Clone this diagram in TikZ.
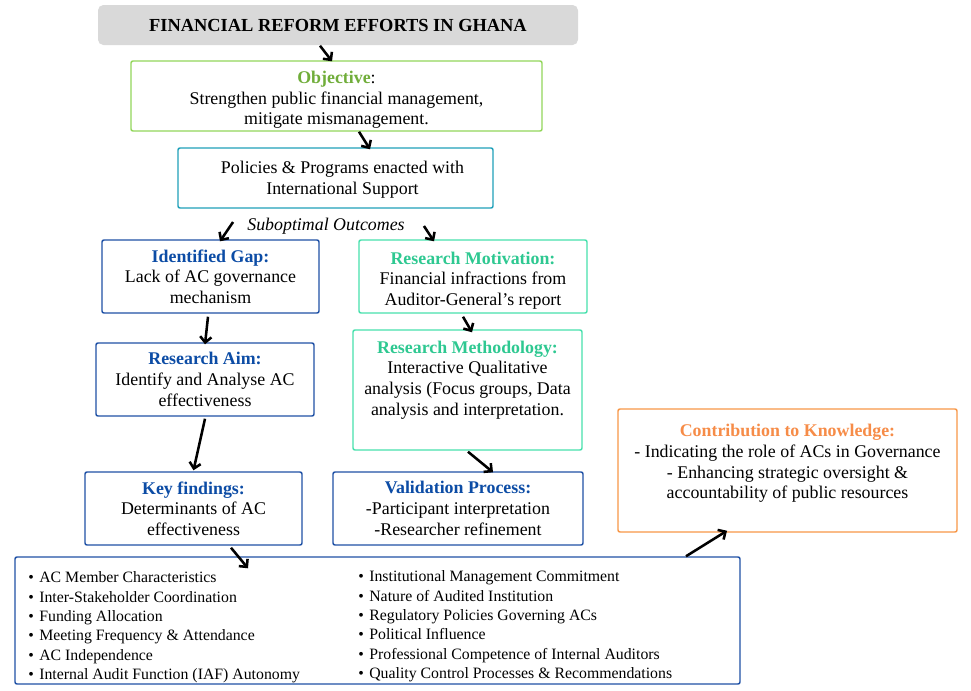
\documentclass[tikz,border=0pt]{standalone}
\usepackage{fontspec}
\setmainfont{Liberation Serif}
\usetikzlibrary{arrows.meta}
\definecolor{titlegray}{RGB}{217,217,217}
\definecolor{objborder}{RGB}{146,214,90}
\definecolor{objtext}{RGB}{112,173,58}
\definecolor{polborder}{RGB}{30,160,185}
\definecolor{blueborder}{RGB}{30,80,165}
\definecolor{bluetext}{RGB}{12,76,165}
\definecolor{tealborder}{RGB}{70,224,172}
\definecolor{tealtext}{RGB}{46,200,145}
\definecolor{orangeborder}{RGB}{247,150,70}
\definecolor{orangetext}{RGB}{246,140,72}
\tikzset{
  box/.style={draw, line width=1.1pt, rounded corners=1.5pt, inner sep=0pt, align=center,
    font=\fontsize{13.4}{15.5}\selectfont},
  txt/.style={inner sep=0pt, align=center, font=\fontsize{13.4}{15.5}\selectfont},
  listcol/.style={inner sep=0pt, align=left, font=\fontsize{11.85}{14.55}\selectfont},
  arr/.style={line width=1.9pt, -{Straight Barb[length=4.3pt,width=8.5pt]}},
}
\newcommand{\bul}{\makebox[8.3pt][l]{\textbullet}}
\begin{document}
\begin{tikzpicture}[x=0.75pt,y=-0.75pt]
\useasboundingbox (0,0) rectangle (971,690);
% title
\node[box, draw=none, fill=titlegray, rounded corners=4pt, minimum width=480*0.75pt, minimum height=40*0.75pt,
  font=\bfseries\fontsize{13.8}{15}\selectfont] (title) at (338,25) {\raisebox{-2.5pt}{FINANCIAL REFORM EFFORTS IN GHANA}};
% objective
\node[box, draw=objborder, minimum width=411*0.75pt, minimum height=70*0.75pt] (obj) at (336.5,96) {};
\node[txt] (objtxt) at ([shift={(0,4)}]obj.center)
  {\textcolor{objtext}{\textbf{Objective}}:\\Strengthen public financial management,\\mitigate mismanagement.};
% policies
\node[box, draw=polborder, minimum width=315*0.75pt, minimum height=60*0.75pt] (pol) at (335.5,178) {};
\node[txt] (poltxt) at ([shift={(7,2)}]pol.center) {Policies \& Programs enacted with\\International Support};
\node[txt, font=\itshape\fontsize{13.4}{15}\selectfont] (sub) at (326,226) {Suboptimal Outcomes};
% left column
\node[box, draw=blueborder, minimum width=217*0.75pt, minimum height=73*0.75pt] (gap) at (210.5,276.5)
  {\textcolor{bluetext}{\textbf{Identified Gap:}}\\Lack of AC governance\\mechanism};
\node[box, draw=blueborder, minimum width=218*0.75pt, minimum height=73*0.75pt] (aim) at (205,379.5)
  {\textcolor{bluetext}{\textbf{Research Aim:}}\\Identify and Analyse AC\\effectiveness};
\node[box, draw=blueborder, minimum width=217*0.75pt, minimum height=73*0.75pt] (key) at (193.5,508.5)
  {\textcolor{bluetext}{\textbf{Key findings:}}\\Determinants of AC\\effectiveness};
% right column
\node[box, draw=tealborder, minimum width=228*0.75pt, minimum height=73*0.75pt] (mot) at (473,276.5) {};
\node[txt] (mottxt) at ([shift={(0,4)}]mot.center)
  {\textcolor{tealtext}{\textbf{Research Motivation:}}\\Financial infractions from\\Auditor-General’s report};
\node[box, draw=tealborder, minimum width=229*0.75pt, minimum height=120*0.75pt] (meth) at (467.5,390) {};
\node[txt] (methtxt) at ([shift={(0,-10)}]meth.center)
  {\textcolor{tealtext}{\textbf{Research Methodology:}}\\Interactive Qualitative\\analysis (Focus groups, Data\\analysis and interpretation.};
\node[box, draw=blueborder, minimum width=250*0.75pt, minimum height=73*0.75pt] (val) at (458,508.5)
  {\textcolor{bluetext}{\textbf{Validation Process:}}\\-Participant interpretation\\-Researcher refinement};
% contribution
\node[box, draw=orangeborder, minimum width=339*0.75pt, minimum height=123*0.75pt] (con) at (787.5,470.5) {};
\node[txt] (contxt) at ([shift={(0,-7)}]con.center)
  {\textcolor{orangetext}{\textbf{Contribution to Knowledge:}}\\- Indicating the role of ACs in Governance\\- Enhancing strategic oversight \&\\accountability of public resources};
% list box
\node[box, draw=blueborder, minimum width=725*0.75pt, minimum height=127*0.75pt] (list) at (377.5,620.5) {};
\node[listcol, anchor=west] (listL) at (28,627.5)
  {\bul AC Member Characteristics\\\bul Inter-Stakeholder Coordination\\\bul Funding Allocation\\\bul Meeting Frequency \& Attendance\\\bul AC Independence\\\bul Internal Audit Function (IAF) Autonomy};
\node[listcol, anchor=west] (listR) at (358,626.5)
  {\bul Institutional Management Commitment\\\bul Nature of Audited Institution\\\bul Regulatory Policies Governing ACs\\\bul Political Influence\\\bul Professional Competence of Internal Auditors\\\bul Quality Control Processes \& Recommendations};
% arrows
\draw[arr] ([shift={(-18,0)}]title.south) -- ([shift={(-4.5,1)}]obj.north);
\draw[arr] ([shift={(22.5,0)}]obj.south) -- ([shift={(34.5,2)}]pol.north);
\draw[arr] ([shift={(-14,-4)}]sub.west) -- ([shift={(9.5,2)}]gap.north);
\draw[arr] ([shift={(19,0)}]sub.east) -- ([shift={(-39,2)}]mot.north);
\draw[arr] ([shift={(-2.5,3)}]gap.south) -- ([shift={(0,2)}]aim.north);
\draw[arr] ([shift={(0,2)}]aim.south) -- ([shift={(0,-1)}]key.north);
\draw[arr] ([shift={(-10,3)}]mot.south) -- ([shift={(4.5,3)}]meth.north);
\draw[arr] ([shift={(0.5,1)}]meth.south) -- ([shift={(35,1)}]val.north);
\draw[arr] ([shift={(37.5,2)}]key.south) -- ([shift={(-129.5,12)}]list.north);
\draw[arr] ([shift={(308.5,0)}]list.north) -- ([shift={(-60.5,-2)}]con.south);
\end{tikzpicture}
\end{document}
